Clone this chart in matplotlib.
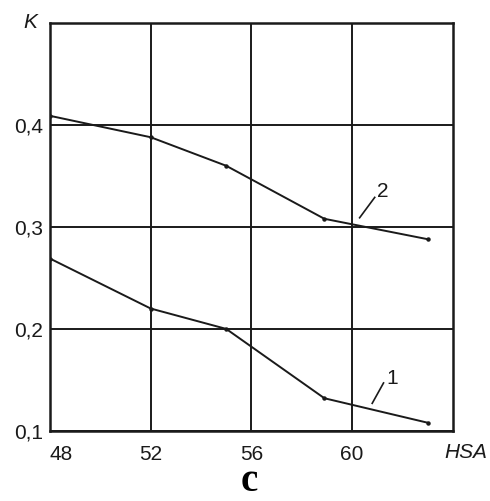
import matplotlib.pyplot as plt

# HSA values along the x axis and K for the two curves
hsa = [48, 52, 55, 58.9, 63]
k_curve1 = [0.269, 0.220, 0.200, 0.132, 0.108]
k_curve2 = [0.409, 0.388, 0.360, 0.308, 0.288]

x_ticks = [48, 52, 56, 60]
y_ticks = [0.1, 0.2, 0.3, 0.4]
y_ticklabels = ["0,1", "0,2", "0,3", "0,4"]

ink = "#1a1a1a"
plt.rcParams["font.family"] = ["Liberation Sans", "DejaVu Sans"]

fig = plt.figure(figsize=(4.9, 5.01), dpi=100)
ax = fig.add_axes([0.102, 0.140, 0.822, 0.814])

ax.plot(hsa, k_curve1, color=ink, lw=1.4, marker="o", ms=2.2, zorder=3)
ax.plot(hsa, k_curve2, color=ink, lw=1.4, marker="o", ms=2.2, zorder=3)

# curve number labels with short leader strokes
ax.plot([60.8, 61.25], [0.127, 0.147], color=ink, lw=1.2)
ax.text(61.35, 0.142, "1", fontsize=15, color=ink, ha="left", va="bottom")
ax.plot([60.3, 60.9], [0.309, 0.329], color=ink, lw=1.2)
ax.text(61.0, 0.325, "2", fontsize=15, color=ink, ha="left", va="bottom")

ax.set_xlim(48, 64)
ax.set_ylim(0.1, 0.5)
ax.set_xticks(x_ticks)
ax.set_yticks(y_ticks)
ax.set_yticklabels(y_ticklabels)
ax.tick_params(length=0, labelsize=15, colors=ink)
ax.tick_params(axis="x", pad=10)
ax.tick_params(axis="y", pad=5)
ax.get_xticklabels()[0].set_horizontalalignment("left")

ax.grid(True, color=ink, lw=1.4)
ax.set_axisbelow(True)
for s in ax.spines.values():
    s.set_linewidth(1.8)
    s.set_color(ink)

fig.text(30 / 490, 1 - 22 / 501, "K", fontsize=15, style="italic", color=ink,
         ha="center", va="center")
fig.text(466 / 490, 1 - 452 / 501, "HSA", fontsize=15, style="italic", color=ink,
         ha="center", va="center")
fig.text(249 / 490, 0.001, "c", fontsize=28, weight="bold", color="black",
         family="Liberation Serif", ha="center", va="bottom")

fig.savefig("out.png", dpi=100)
